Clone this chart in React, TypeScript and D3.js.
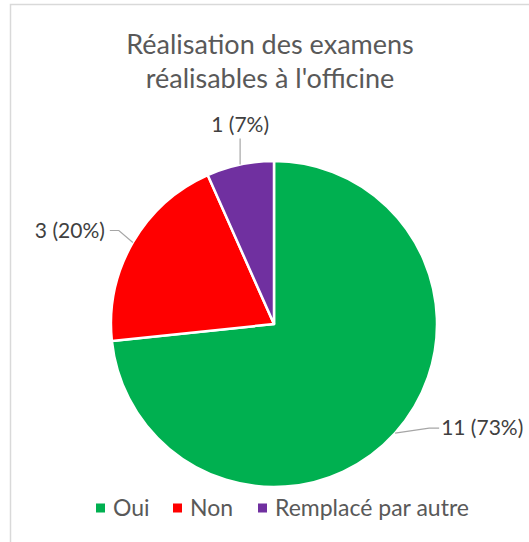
import React from 'react';
import * as d3 from 'd3';

const categories = ['Oui', 'Non', 'Remplacé par autre'];
const counts = [11, 3, 1];
const percents = ['73%', '20%', '7%'];
const colors = ['#00B050', '#FF0000', '#7030A0'];
const titleLines = ['Réalisation des examens', "réalisables à l'officine"];

const width = 529;
const height = 542;
const font = "Lato, 'Open Sans', sans-serif";

export default function App() {
    const cx = 274;
    const cy = 324;
    const r = 163;

    const pie = d3.pie<number>().sort(null).value((d) => d);
    const arcs = pie(counts);
    const arcGen = d3.arc<d3.PieArcDatum<number>>().innerRadius(0).outerRadius(r);

    // leader line layout per slice: elbow and end, relative to edge point
    const leaders = [
        { elbow: [34, -5], end: [44, -5], anchor: 'start', tdx: 2 },
        { elbow: [-14, -12], end: [-23, -12], anchor: 'end', tdx: -5 },
        { elbow: [0, -26], end: [0, -26], anchor: 'middle', tdx: 0 },
    ];

    const labels = arcs.map((a, i) => {
        const mid = (a.startAngle + a.endAngle) / 2;
        const px = cx + r * Math.sin(mid);
        const py = cy - r * Math.cos(mid);
        const L = leaders[i];
        const ex = px + L.end[0];
        const ey = py + L.end[1];
        const line = d3.line()([
            [px, py],
            [px + L.elbow[0], py + L.elbow[1]],
            [ex, ey],
        ]);
        return { i, px, py, ex, ey, line, L };
    });

    const legendX = [96, 173, 258];

    return (
        <svg width={width} height={height} style={{ position: 'absolute', left: 0, top: 0, background: '#fff' }}>
            <rect x={10.5} y={4.5} width={560} height={600} fill="#fff" stroke="#D9D9D9" strokeWidth={1.5} />
            {titleLines.map((t, i) => (
                <text key={t} x={270} y={54 + i * 34} textAnchor="middle" fontFamily={font}
                    fontSize={27} fill="#595959">{t}</text>
            ))}
            <g transform={`translate(${cx},${cy})`}>
                {arcs.map((a, i) => (
                    <path key={i} d={arcGen(a) || ''} fill={colors[i]} stroke="#fff" strokeWidth={2.5} strokeLinejoin="round" />
                ))}
            </g>
            {labels.map((l) => (
                <g key={l.i}>
                    <path d={l.line || ''} fill="none" stroke="#A6A6A6" strokeWidth={1.2} />
                    <text x={l.ex + l.L.tdx} y={l.i === 2 ? l.ey - 7 : l.ey} dy={l.i === 2 ? 0 : '0.35em'}
                        textAnchor={l.L.anchor} fontFamily={font} fontSize={21} fill="#404040">
                        {`${counts[l.i]} (${percents[l.i]})`}
                    </text>
                </g>
            ))}
            <g transform="translate(0,508)">
                {categories.map((c, i) => (
                    <g key={c} transform={`translate(${legendX[i]},0)`}>
                        <rect x={0} y={-4.5} width={9} height={9} fill={colors[i]} />
                        <text x={17} y={0} dy="0.35em" fontFamily={font} fontSize={23} fill="#595959">{c}</text>
                    </g>
                ))}
            </g>
        </svg>
    );
}
